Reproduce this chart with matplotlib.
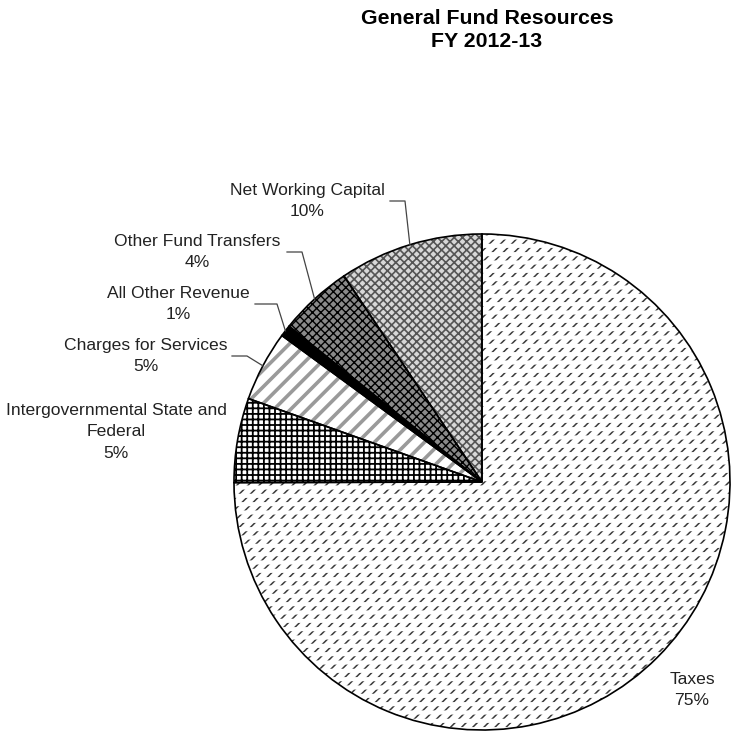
import matplotlib.pyplot as plt
import numpy as np

plt.rcParams['font.family'] = ['Liberation Sans', 'DejaVu Sans']

# slice data (percent of General Fund resources)
categories = ['Taxes', 'Intergovernmental State and\nFederal', 'Charges for Services',
              'All Other Revenue', 'Other Fund Transfers', 'Net Working Capital']
values = [75.0, 5.5, 4.6, 0.75, 4.8, 9.4]
pct_labels = ['75%', '5%', '5%', '1%', '4%', '10%']

W, H = 732, 734
cx, cy, R = 482, 482, 248   # pie centre / radius in pixels


def px(x, y):
    # pixel position -> data coords
    return (x - cx) / R, (cy - y) / R


fig = plt.figure(figsize=(W / 100, H / 100), dpi=100)
ax = fig.add_axes([0, 0, 1, 1])

# fill styles: (facecolor, hatch, hatch colour, hatch width)
styles = [
    ('white', '///', '#3a3a3a', 1.1),
    ('white', '+++', 'black', 1.3),
    ('white', '//', '#9a9a9a', 2.6),
    ('black', None, 'black', 1.0),
    ('#8a8a8a', 'xxxx', 'black', 1.0),
    ('#d8d8d8', 'xxxx', '#555555', 1.2),
]

wedges, _ = ax.pie(values, startangle=90, counterclock=False, radius=1,
                   wedgeprops=dict(linewidth=0))
for w, (fc, hatch, hc, hw) in zip(wedges, styles):
    w.set_facecolor(fc)
    w.set_edgecolor(hc)
    if hatch:
        w.set_hatch(hatch)
    if hasattr(w, 'set_hatch_linewidth'):
        w.set_hatch_linewidth(hw)

# break the taxes diagonals into short dashes with white rows
over, _ = ax.pie(values[:1] + [sum(values[1:])], startangle=90, counterclock=False,
                 radius=1, wedgeprops=dict(linewidth=0))
over[0].set_facecolor('none')
over[0].set_edgecolor('white')
over[0].set_hatch('--')
if hasattr(over[0], 'set_hatch_linewidth'):
    over[0].set_hatch_linewidth(3.0)
over[1].set_visible(False)

# black outlines
outl, _ = ax.pie(values, startangle=90, counterclock=False, radius=1,
                 wedgeprops=dict(fill=False, edgecolor='black', linewidth=1.2))

ax.set_xlim(-cx / R, (W - cx) / R)
ax.set_ylim((cy - H) / R, cy / R)
ax.set_aspect('equal')
ax.axis('off')

# label positions (pixel centre of text block) and leader elbows
label_pos = [(692, 690), (116, 432), (146, 356), (178, 304), (197, 252), (307, 201)]
elbow = [None, None, (232, 247), (255, 277), (287, 302), (390, 405)]

for i, w in enumerate(wedges):
    lx, ly = px(*label_pos[i])
    ax.text(lx, ly, categories[i] + '\n' + pct_labels[i], ha='center', va='center',
            fontsize=12.6, color='#222222', linespacing=1.55)
    if elbow[i] is not None:
        mid = np.deg2rad((w.theta1 + w.theta2) / 2)
        ex0, ey = px(elbow[i][0], label_pos[i][1])
        ex1, _ = px(elbow[i][1], label_pos[i][1])
        ax.plot([ex0, ex1, np.cos(mid)], [ey, ey, np.sin(mid)], color='#444444',
                linewidth=0.9)

tx, ty = px(487, 30)
ax.text(tx, ty, 'General Fund Resources\nFY 2012-13', ha='center', va='center',
        fontsize=15.3, fontweight='bold', linespacing=1.3)

fig.savefig('out.png', dpi=100)
